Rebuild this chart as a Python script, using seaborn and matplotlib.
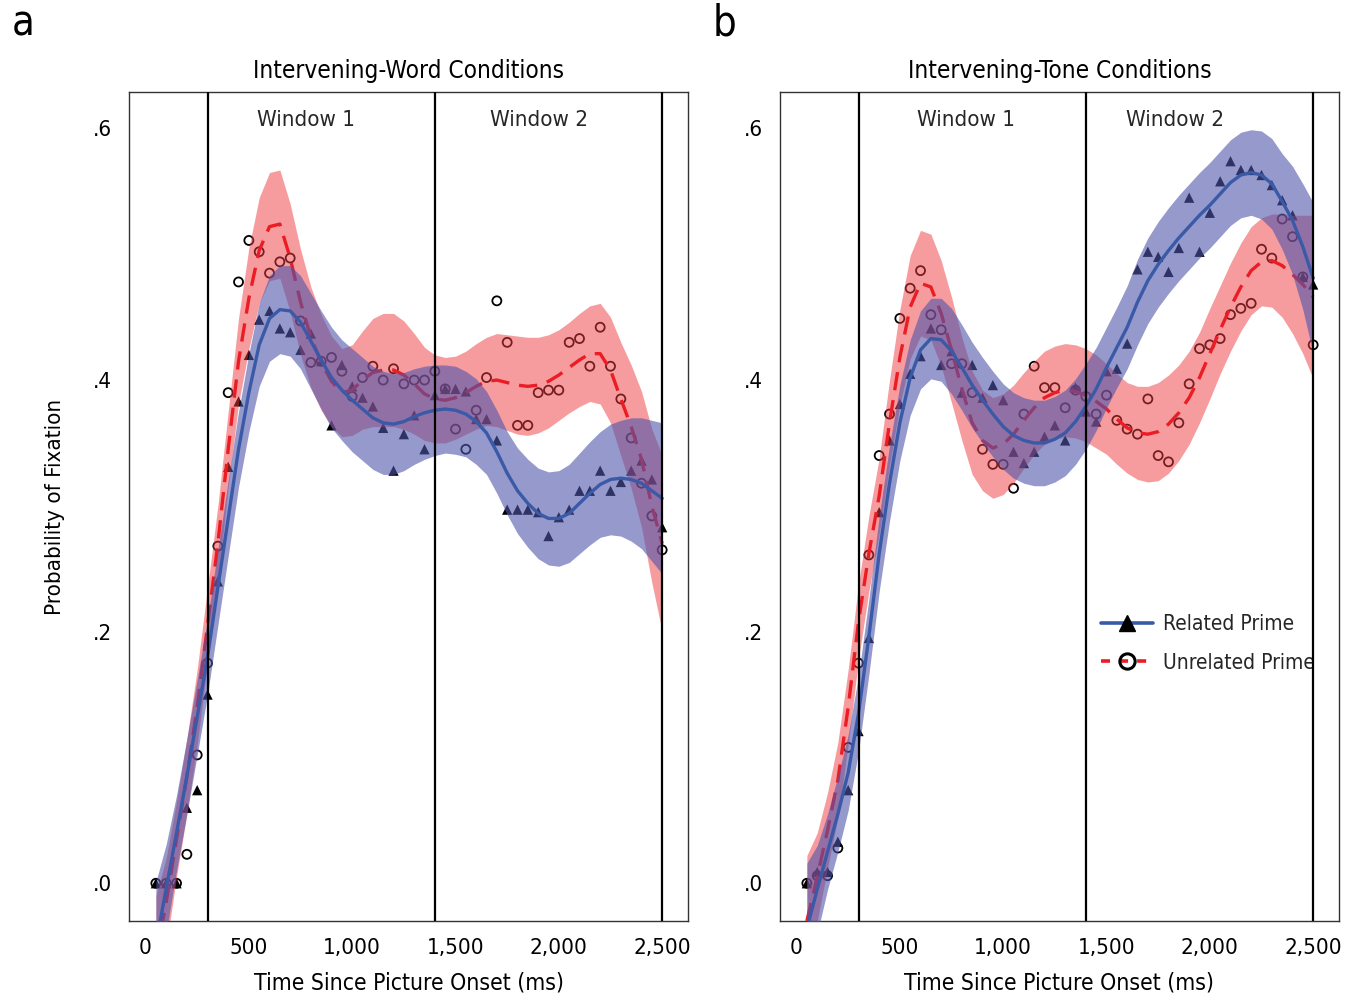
import numpy as np
import pandas as pd
import matplotlib
matplotlib.use("Agg")
import matplotlib.pyplot as plt
from matplotlib.lines import Line2D
import seaborn as sns

sns.set_theme(style="white")
plt.rcParams['font.family'] = ['DejaVu Sans']
plt.rcParams['font.stretch'] = 'condensed'

# sample times (ms), one point every 50 ms
times = np.arange(50, 2550, 50)

word_related = [0, 0, 0, .060, .074, .150, .240, .331, .383, .420,
                .448, .455, .441, .438, .424, .437, .415, .364, .412, .395,
                .386, .379, .362, .328, .357, .372, .345, .388, .393, .393,
                .391, .369, .369, .352, .297, .297, .297, .295, .276, .291,
                .297, .312, .312, .328, .312, .319, .328, .336, .321, .283]
word_unrelated = [0, 0, 0, .023, .102, .175, .268, .390, .478, .511,
                  .502, .485, .494, .497, .447, .414, .415, .418, .407, .387,
                  .402, .411, .400, .409, .397, .400, .400, .407, .393, .361,
                  .345, .376, .402, .463, .430, .364, .364, .390, .392, .392,
                  .430, .433, .411, .442, .411, .385, .354, .318, .292, .265]
tone_related = [0, .009, .009, .033, .074, .121, .195, .295, .352, .381,
                .405, .419, .441, .412, .423, .390, .412, .386, .396, .384,
                .343, .334, .343, .355, .364, .352, .394, .375, .367, .407,
                .409, .429, .488, .502, .498, .486, .505, .545, .502, .533,
                .558, .574, .567, .567, .563, .555, .543, .531, .482, .476]
tone_unrelated = [0, .006, .006, .028, .108, .175, .261, .340, .373, .449,
                  .473, .487, .452, .440, .413, .413, .390, .345, .333, .333,
                  .314, .373, .411, .394, .394, .378, .392, .387, .373, .388,
                  .368, .361, .357, .385, .340, .335, .366, .397, .425, .428,
                  .433, .452, .457, .461, .504, .497, .528, .514, .482, .428]

# fitted curves and half-widths of their confidence bands
word_related_fit = [-.049, -.004, .040, .085, .132, .180, .235, .290, .345, .390,
                    .428, .449, .456, .455, .446, .431, .416, .402, .392, .384,
                    .377, .370, .366, .365, .367, .371, .374, .376, .377, .376,
                    .373, .367, .358, .343, .326, .312, .302, .294, .290, .290,
                    .294, .302, .310, .317, .321, .322, .321, .318, .312, .306]
word_related_ci = [.050, .035, .030, .030, .030, .030, .030, .030, .030, .031,
                   .033, .034, .035, .036, .037, .038, .039, .040, .040, .041,
                   .041, .041, .041, .040, .039, .038, .037, .036, .035, .035,
                   .034, .034, .033, .033, .033, .034, .035, .036, .037, .038,
                   .039, .040, .041, .042, .044, .046, .049, .052, .056, .060]
word_unrelated_fit = [-.060, -.015, .035, .085, .140, .205, .270, .345, .415, .465,
                      .503, .522, .524, .497, .462, .434, .414, .399, .390, .392,
                      .400, .406, .408, .408, .404, .397, .389, .385, .384, .386,
                      .390, .395, .399, .400, .398, .396, .395, .396, .399, .404,
                      .410, .416, .421, .421, .408, .385, .363, .337, .300, .270]
word_unrelated_ci = [.050, .035, .030, .030, .030, .030, .030, .030, .034, .040,
                     .042, .043, .043, .043, .042, .040, .038, .036, .035, .036,
                     .039, .043, .045, .045, .043, .040, .037, .035, .034, .033,
                     .033, .034, .035, .037, .038, .039, .039, .038, .037, .036,
                     .036, .037, .038, .040, .042, .045, .049, .054, .061, .070]
tone_related_fit = [-.036, -.005, .025, .055, .088, .135, .196, .262, .318, .366,
                    .402, .424, .433, .432, .423, .410, .396, .384, .373, .363,
                    .356, .352, .350, .350, .353, .358, .367, .379, .393, .410,
                    .426, .442, .462, .479, .492, .503, .513, .522, .531, .539,
                    .548, .557, .563, .565, .563, .556, .542, .527, .506, .481]
tone_related_ci = [.052, .035, .030, .030, .030, .030, .030, .030, .030, .030,
                   .030, .031, .032, .033, .034, .034, .034, .034, .034, .034,
                   .034, .034, .034, .034, .034, .034, .034, .034, .033, .032,
                   .032, .033, .034, .034, .034, .034, .034, .034, .034, .034,
                   .034, .034, .034, .034, .035, .036, .038, .043, .050, .060]
tone_unrelated_fit = [-.030, .005, .042, .082, .140, .208, .262, .308, .366, .418,
                      .458, .477, .474, .453, .424, .393, .366, .352, .346, .349,
                      .357, .368, .378, .386, .390, .392, .391, .388, .383, .377,
                      .369, .362, .358, .357, .359, .365, .374, .386, .402, .421,
                      .440, .458, .474, .487, .494, .495, .491, .484, .476, .466]
tone_unrelated_ci = [.052, .035, .030, .030, .030, .030, .030, .030, .034, .038,
                     .041, .042, .042, .042, .042, .041, .041, .040, .040, .040,
                     .039, .038, .037, .037, .037, .037, .037, .037, .037, .036,
                     .036, .036, .037, .038, .039, .039, .038, .037, .036, .036,
                     .035, .035, .035, .035, .035, .037, .041, .047, .055, .065]

panel_titles = ["Intervening-Word Conditions", "Intervening-Tone Conditions"]
panel_letters = ["a", "b"]
window_edges = [300, 1400, 2500]
window_label_x = [[775, 1905], [820, 1830]]
x_ticks = [0, 500, 1000, 1500, 2000, 2500]
x_tick_labels = ["0", "500", "1,000", "1,500", "2,000", "2,500"]
y_ticks = [0, .2, .4, .6]
y_tick_labels = [".0", ".2", ".4", ".6"]

blue_line = "#3a5aa8"
red_line = "#ec1c24"
blue_band = "#4e55aa"
red_band = "#ee3b3f"

panels = [
    dict(rel=word_related, unr=word_unrelated,
         rel_fit=word_related_fit, rel_ci=word_related_ci,
         unr_fit=word_unrelated_fit, unr_ci=word_unrelated_ci),
    dict(rel=tone_related, unr=tone_unrelated,
         rel_fit=tone_related_fit, rel_ci=tone_related_ci,
         unr_fit=tone_unrelated_fit, unr_ci=tone_unrelated_ci),
]

fig = plt.figure(figsize=(13.54, 9.98), dpi=100)
axes = [fig.add_axes([129 / 1354, 77 / 998, 559 / 1354, 829 / 998]),
        fig.add_axes([780 / 1354, 77 / 998, 559 / 1354, 829 / 998])]

for i, (ax, p) in enumerate(zip(axes, panels)):
    df = pd.DataFrame({"time": times, "rel": p["rel"], "unr": p["unr"],
                       "rel_fit": p["rel_fit"], "unr_fit": p["unr_fit"],
                       "rel_ci": p["rel_ci"], "unr_ci": p["unr_ci"]})

    # raw points sit underneath the bands so they get tinted
    sns.scatterplot(data=df, x="time", y="rel", marker="^", s=55, color="black",
                    edgecolor="none", ax=ax, zorder=1, legend=False)
    sns.scatterplot(data=df, x="time", y="unr", marker="o", s=42, facecolor="none",
                    edgecolor="black", linewidth=1.3, ax=ax, zorder=1, legend=False)

    ax.fill_between(df["time"], df["unr_fit"] - df["unr_ci"], df["unr_fit"] + df["unr_ci"],
                    color=red_band, alpha=0.5, linewidth=0, zorder=2)
    sns.lineplot(data=df, x="time", y="unr_fit", color=red_line, lw=2.4,
                 ax=ax, zorder=3).lines[-1].set_dashes((5.5, 3))
    ax.fill_between(df["time"], df["rel_fit"] - df["rel_ci"], df["rel_fit"] + df["rel_ci"],
                    color=blue_band, alpha=0.6, linewidth=0, zorder=4)
    sns.lineplot(data=df, x="time", y="rel_fit", color=blue_line, lw=2.4, ax=ax, zorder=5)

    for edge in window_edges:
        ax.axvline(edge, color="black", lw=1.6, zorder=6)
    ax.text(window_label_x[i][0], 0.607, "Window 1", ha="center", va="center", fontsize=16)
    ax.text(window_label_x[i][1], 0.607, "Window 2", ha="center", va="center", fontsize=16)

    ax.set_xlim(-80, 2625)
    ax.set_ylim(-0.030, 0.629)
    ax.set_xticks(x_ticks)
    ax.set_xticklabels(x_tick_labels)
    ax.set_yticks(y_ticks)
    ax.set_yticklabels(y_tick_labels)
    ax.tick_params(length=0, labelsize=16, pad=12, colors="black")
    ax.set_xlabel("Time Since Picture Onset (ms)", fontsize=16.5, labelpad=10, color="black")
    ax.set_ylabel("")
    ax.set_title(panel_titles[i], fontsize=17.5, pad=10, color="black")
    for s in ax.spines.values():
        s.set_color("#333333")
        s.set_linewidth(1.0)
    ax.grid(False)
    fig.text((12 if i == 0 else 713) / 1354, 1 - 2 / 998, panel_letters[i],
             ha="left", va="top", fontsize=30, color="black")

axes[0].set_ylabel("Probability of Fixation", fontsize=16, labelpad=20, color="black")

handles = [Line2D([], [], color=blue_line, lw=2.6, marker="^", markersize=12,
                  markerfacecolor="black", markeredgecolor="black"),
           Line2D([], [], color=red_line, lw=2.6, dashes=(2.5, 2.5), marker="o",
                  markersize=11, markerfacecolor="none", markeredgecolor="black",
                  markeredgewidth=2.2)]
axes[1].legend(handles, ["Related Prime", "Unrelated Prime"], loc="upper left",
               bbox_to_anchor=(0.540, 0.393), frameon=False, fontsize=15,
               handlelength=2.5, handletextpad=0.5, labelspacing=0.9)

fig.savefig("out.png", dpi=100)
